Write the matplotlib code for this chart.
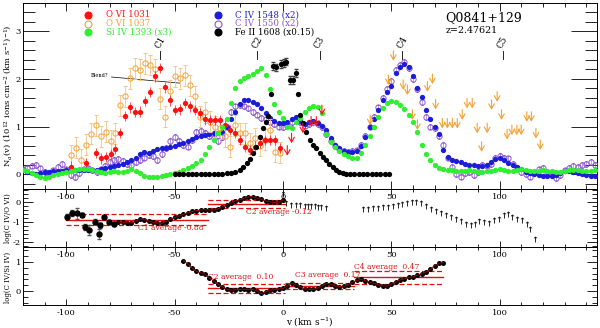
import numpy as np
import matplotlib
matplotlib.use('Agg')
import matplotlib.pyplot as plt
from matplotlib.ticker import MultipleLocator

plt.rcParams['font.family'] = ['DejaVu Serif']
plt.rcParams['axes.unicode_minus'] = False
plt.rcParams['mathtext.fontset'] = 'dejavuserif'

# ---------------- data (top panel) ----------------
v_grid = np.arange(-120, 145, 2)

civ1548 = [0.08, 0.05, 0.02, 0.00, 0.02, 0.05, 0.05, 0.06, 0.07, 0.07,
           0.08, 0.08, 0.09, 0.08, 0.08, 0.09, 0.08, 0.09, 0.11, 0.13,
           0.15, 0.18, 0.20, 0.22, 0.26, 0.30, 0.35, 0.42, 0.47, 0.45,
           0.48, 0.52, 0.55, 0.56, 0.58, 0.60, 0.63, 0.66, 0.70, 0.73,
           0.77, 0.81, 0.83, 0.85, 0.86, 0.87, 0.88, 0.98, 1.15, 1.30,
           1.48, 1.56, 1.56, 1.52, 1.48, 1.38, 1.28, 1.18, 1.12, 1.08,
           1.07, 1.10, 1.15, 1.20, 1.12, 1.05, 1.10, 1.12, 1.08, 1.02,
           0.93, 0.75, 0.62, 0.55, 0.49, 0.47, 0.46, 0.48, 0.60, 0.78,
           0.98, 1.16, 1.35, 1.55, 1.72, 1.85, 2.12, 2.25, 2.32, 2.25,
           2.05, 1.80, 1.62, 1.35, 1.15, 0.98, 0.85, 0.50, 0.36, 0.30,
           0.27, 0.25, 0.22, 0.20, 0.20, 0.18, 0.17, 0.20, 0.26, 0.32,
           0.35, 0.30, 0.24, 0.20, 0.15, 0.10, 0.05, 0.02, 0.00, -0.02,
           -0.03, -0.04, -0.04, -0.02, 0.02, 0.06, 0.07, 0.05, 0.02, 0.00,
           -0.02, -0.04, -0.03]

civ1550 = [0.10, 0.12, 0.18, 0.20, 0.12, 0.05, 0.02, 0.08, 0.15, 0.22,
           0.10, -0.02, -0.06, 0.02, 0.10, 0.12, 0.08, 0.05, 0.10, 0.18,
           0.25, 0.30, 0.32, 0.28, 0.22, 0.20, 0.25, 0.30, 0.35, 0.40,
           0.38, 0.30, 0.42, 0.55, 0.70, 0.78, 0.70, 0.62, 0.58, 0.72,
           0.88, 0.90, 0.86, 0.80, 0.75, 0.70, 0.78, 1.00, 1.30, 1.42,
           1.45, 1.42, 1.38, 1.30, 1.25, 1.18, 1.15, 1.10, 1.05, 1.00,
           0.98, 1.02, 1.10, 1.15, 1.10, 1.02, 1.05, 1.10, 1.05, 0.98,
           0.85, 0.70, 0.60, 0.52, 0.48, 0.46, 0.48, 0.50, 0.62, 0.80,
           1.00, 1.20, 1.40, 1.60, 1.78, 1.95, 2.18, 2.30, 2.35, 2.22,
           2.00, 1.78, 1.52, 1.20, 1.00, 0.96, 0.80, 0.62, 0.35, 0.15,
           0.00, -0.05, 0.02, 0.05, -0.01, 0.05, 0.20, 0.18, 0.22, 0.35,
           0.38, 0.35, 0.33, 0.22, 0.13, 0.05, 0.00, -0.05, 0.02, 0.10,
           0.13, 0.05, -0.02, -0.08, -0.02, 0.08, 0.13, 0.18, 0.15, 0.20,
           0.22, 0.26, 0.20]

siiv1393 = [0.09, 0.06, 0.02, -0.02, -0.06, -0.08, -0.05, -0.02, 0.00, 0.03,
            0.05, 0.07, 0.09, 0.10, 0.10, 0.10, 0.08, 0.06, 0.04, 0.03,
            0.05, 0.06, 0.05, 0.05, 0.07, 0.10, 0.06, 0.02, -0.03, -0.06,
            -0.06, -0.05, -0.04, -0.02, 0.00, 0.02, 0.04, 0.08, 0.14, 0.18,
            0.24, 0.30, 0.42, 0.58, 0.72, 0.86, 1.00, 1.15, 1.50, 1.80,
            1.96, 2.02, 2.06, 2.10, 2.17, 2.22, 2.08, 1.78, 1.48, 1.30,
            1.17, 1.00, 0.96, 1.10, 1.18, 1.30, 1.38, 1.42, 1.40, 1.28,
            0.85, 0.68, 0.58, 0.48, 0.42, 0.38, 0.34, 0.34, 0.45, 0.62,
            0.80, 1.00, 1.20, 1.38, 1.50, 1.53, 1.52, 1.46, 1.36, 1.24,
            1.10, 0.88, 0.62, 0.42, 0.30, 0.20, 0.13, 0.10, 0.09, 0.08,
            0.07, 0.06, 0.07, 0.08, 0.07, 0.05, 0.05, 0.06, 0.06, 0.08,
            0.10, 0.09, 0.07, 0.06, 0.08, 0.10, 0.09, 0.07, 0.06, 0.07,
            0.08, 0.07, 0.06, 0.05, 0.05, 0.06, 0.08, 0.09, 0.08, 0.07,
            0.06, 0.07, 0.09]

ovi1031_v = [-98.0, -91.0, -86.5, -84.2, -81.9, -79.6, -77.3, -75.0, -72.7, -70.4,
             -68.1, -65.8, -63.5, -61.2, -58.9, -56.6, -54.3, -52.0, -49.7, -47.4,
             -45.1, -42.8, -40.5, -38.2, -35.9, -33.6, -31.3, -29.0, -26.7, -24.4,
             -22.1, -19.8, -17.5, -15.2, -12.9, -10.6, -8.3, -6.0, -3.7, -1.4]
ovi1031 = [0.16, 0.24, 0.45, 0.33, 0.36, 0.42, 0.53, 0.86, 1.22, 1.40,
           1.30, 1.31, 1.53, 1.72, 2.05, 2.23, 1.82, 1.55, 1.35, 1.36,
           1.49, 1.42, 1.35, 1.28, 1.15, 1.14, 1.14, 1.14, 1.03, 0.93,
           0.86, 0.72, 0.58, 0.51, 0.58, 0.65, 0.72, 0.72, 0.72, 0.55]
ovi1031_lim_v = [2.0, 4.0, 9.2, 13.0, 15.4, 18.0]
ovi1031_lim = [0.60, 0.86, 1.07, 1.21, 1.21, 1.45]

ovi1037_v = [-98.0, -95.7, -93.4, -91.1, -88.8, -86.5, -84.2, -81.9, -79.6, -77.3,
             -75.0, -72.7, -70.4, -68.1, -65.8, -63.5, -61.2, -58.9, -56.6, -54.3,
             -52.0, -49.7, -47.4, -45.1, -42.8, -40.5, -38.2, -35.9, -33.6, -31.3,
             -29.0, -26.7, -24.4, -22.1, -19.8, -17.5, -15.2, -12.9, -10.6, -8.3,
             -6.0, -3.7, -1.4]
ovi1037 = [0.40, 0.55, 0.30, 0.62, 0.85, 1.03, 0.80, 0.89, 0.70, 0.86,
           1.45, 1.63, 2.01, 2.22, 2.19, 2.33, 2.29, 2.20, 1.58, 1.21,
           1.75, 2.05, 2.01, 2.08, 1.87, 1.63, 1.21, 1.30, 1.10, 1.00,
           0.96, 0.80, 0.58, 1.03, 0.86, 0.86, 0.65, 0.75, 0.60, 0.72,
           0.93, 0.47, 0.45]
ovi1037_lim_v = [40.3, 48.7, 51.0, 55.5, 57.5, 59.8, 62.1, 66.7, 69.0, 70.5,
                 73.6, 75.9, 78.2, 80.5, 82.8, 85.0, 87.4, 89.7, 91.7, 94.3,
                 96.3, 98.9, 100.9, 103.5, 105.7, 108.0, 110.0, 112.6, 114.7,
                 116.8, 118.8]
ovi1037_lim = [1.24, 2.08, 2.59, 1.98, 1.87, 1.35, 1.14, 1.94, 2.10, 1.57,
               1.17, 1.17, 1.17, 1.17, 1.35, 1.59, 1.59, 1.07, 0.68, 1.07,
               1.56, 1.73, 1.35, 0.94, 1.03, 1.03, 1.03, 1.31, 1.31, 0.96,
               0.72]

feii_v = [-50, -48, -46, -44, -42, -40, -38, -36, -34, -32, -30, -28, -26, -24,
          -22, -20, -18.4, -16.8, -15.3, -13.8, -12.2, -10.7, -9.1, -7.6, -6.9,
          -5.4, -4.6, -3.0, -1.0, 0.5, 1.6, 3.1, 4.6, 6.2, 6.9, 7.7, 9.2, 10.8,
          12.3, 13.8, 15.4, 16.9, 18.4, 20.0, 21.5, 23.0, 24.5, 26.0, 27.6, 29.0,
          31, 33, 35, 37, 39, 41, 43, 45, 47, 49]
feii1608 = [0.0, 0.0, 0.0, 0.0, 0.0, 0.0, 0.0, 0.0, 0.0, 0.0, 0.01, 0.01, 0.02, 0.03,
            0.05, 0.09, 0.16, 0.24, 0.32, 0.44, 0.58, 0.77, 0.97, 1.10, 1.22,
            1.68, 2.27, 2.24, 2.31, 2.33, 2.36, 1.98, 1.98, 2.12, 1.68, 1.24, 1.07, 0.89,
            0.72, 0.61, 0.55, 0.44, 0.37, 0.30, 0.22, 0.15, 0.09, 0.05, 0.02, 0.01,
            0.0, 0.0, 0.0, 0.0, 0.0, 0.0, 0.0, 0.0, 0.0, 0.0]

components = ['C1', 'C2', 'C3', 'C4', 'C5']
component_v = [-56.7, -12.0, 17.0, 55.2, 101.5]

# ---------------- data (middle panel) ----------------
ratio_ovi_v_err = [-99.6, -97.3, -95.0, -92.7, -91.2, -89.7, -86.6, -85.0, -84.3,
                   -82.8, -80.5, -78.2]
ratio_ovi_err_vals = [-0.75, -0.58, -0.58, -0.66, -1.25, -1.40, -0.99, -1.58,
                      -1.17, -0.75, -1.00, -1.08]
ratio_ovi_err_sig = [0.12, 0.15, 0.25, 0.12, 0.15, 0.25, 0.12, 0.25, 0.12,
                     0.10, 0.10, 0.10]
ratio_ovi_v = np.arange(-76, 1, 2)
ratio_ovi = [-1.00, -1.02, -1.05, -1.05, -0.95, -0.85, -0.88, -0.95, -1.02, -1.06,
             -1.07, -0.98, -0.85, -0.78, -0.70, -0.62, -0.55, -0.48, -0.44, -0.41,
             -0.40, -0.40, -0.41, -0.35, -0.25, -0.15, -0.05, 0.05, 0.10, 0.18,
             0.25, 0.25, 0.19, 0.12, 0.04, 0.00, -0.03, -0.02, 0.10]
ratio_ovi_lim_v = [0.0, 1.5, 3.8, 6.1, 7.7, 10.0, 11.6, 13.1, 14.6, 16.2, 17.7, 19.7,
                   36.8, 39.1, 41.4, 43.7, 46.0, 48.3, 50.6, 52.9, 55.2, 57.5,
                   59.8, 61.6, 63.6, 66.0, 68.2, 70.5, 72.8, 75.1, 77.4, 79.7,
                   82.0, 84.3, 86.6, 88.6, 90.4, 92.7, 95.0, 97.3, 99.6, 101.9,
                   103.8, 105.7, 108.0, 110.3, 112.6, 114.2, 116.2]
ratio_ovi_lim = [0.40, -0.08, -0.15, -0.18, -0.15, -0.20, -0.20, -0.22, -0.22,
                 -0.25, -0.27, -0.30,
                 -0.37, -0.34, -0.32, -0.29, -0.27, -0.25, -0.22, -0.17, -0.12,
                 -0.08, -0.03, 0.00, -0.08, -0.23, -0.37, -0.44, -0.54, -0.66,
                 -0.75, -0.83, -0.95, -1.12, -1.17, -1.08, -0.95, -1.00, -1.05,
                 -0.92, -0.83, -0.66, -0.63, -0.75, -0.83, -0.88, -1.08, -1.33,
                 -1.84]
mid_avg_names = ['C1 average -0.88', 'C2 average -0.12']
mid_avg = [-0.88, -0.12]
mid_avg_sig = [0.25, 0.20]
mid_avg_range = [(-100, -34.5), (-34.5, 1.0)]

# ---------------- data (bottom panel) ----------------
ratio_siiv_v = np.arange(-46, 75, 2)
ratio_siiv = [1.05, 0.95, 0.80, 0.68, 0.63, 0.58, 0.45, 0.35, 0.25, 0.15,
              0.07, 0.03, 0.04, 0.06, 0.06, 0.05, 0.06, 0.00, -0.08, -0.03,
              0.03, 0.05, 0.07, 0.09, 0.18, 0.27, 0.22, 0.15, 0.08, 0.06,
              0.06, 0.10, 0.18, 0.26, 0.25, 0.18, 0.15, 0.16, 0.22, 0.30,
              0.37, 0.40, 0.36, 0.30, 0.27, 0.22, 0.18, 0.17, 0.25, 0.33,
              0.38, 0.42, 0.47, 0.49, 0.55, 0.60, 0.66, 0.75, 0.88, 0.96,
              0.98]
bot_avg_names = ['C2 average  0.10', 'C3 average  0.17', 'C4 average  0.47']
bot_avg = [0.10, 0.17, 0.47]
bot_avg_sig = [0.15, 0.10, 0.23]
bot_avg_range = [(-34.5, 1.0), (1.0, 33.0), (33.0, 74.0)]

# ---------------- colours ----------------
RED = '#ff1010'
ORANGE = '#f5a030'
ORANGE_E = '#f7c48a'
GREEN = '#30ee30'
BLUE = '#1c1cd8'
PURPLE = '#8a55d0'
DRED = '#e01010'

fig = plt.figure(figsize=(6.0, 3.28), dpi=100)
fig.patch.set_facecolor('white')
L, W = 23 / 600, 574 / 600
ax1 = fig.add_axes([L, 1 - 189 / 328, W, 186 / 328])
ax2 = fig.add_axes([L, 1 - 247 / 328, W, 58 / 328])
ax3 = fig.add_axes([L, 1 - 305 / 328, W, 58 / 328])
for ax in (ax1, ax2, ax3):
    ax.set_facecolor('none')
    ax.set_xlim(-120, 145)
    ax.xaxis.set_major_locator(MultipleLocator(50))
    ax.xaxis.set_minor_locator(MultipleLocator(10))
    ax.yaxis.set_major_locator(MultipleLocator(1))
    ax.yaxis.set_minor_locator(MultipleLocator(0.2))
    for s in ax.spines.values():
        s.set_linewidth(0.7)
    ax.tick_params(which='both', direction='in', top=True, right=True,
                   labelsize=6, width=0.6, pad=3)
    ax.tick_params(axis='y', pad=1.5)
ax1.tick_params(axis='y', which='major', length=19)
ax1.tick_params(axis='y', which='minor', length=8.5)
ax1.tick_params(axis='x', which='major', length=5.5)
ax1.tick_params(axis='x', which='minor', length=2.8)
for ax in (ax2, ax3):
    ax.tick_params(axis='y', which='major', length=7)
    ax.tick_params(axis='y', which='minor', length=3.5)
    ax.tick_params(axis='x', which='major', length=4.5)
    ax.tick_params(axis='x', which='minor', length=2.3)

ax1.set_ylim(-0.31, 3.59)
ax2.set_ylim(-2.25, 0.64)
ax3.set_ylim(-0.48, 1.52)

# ---------------- top panel ----------------
ms = 3.8
ax1.errorbar(v_grid, civ1550, yerr=0.06, fmt='o', ms=ms, mfc='none', mec=PURPLE,
             mew=0.7, ecolor=PURPLE, elinewidth=0.4, capsize=1, zorder=3)
ax1.plot(v_grid, civ1548, 'o', ms=ms, color=BLUE, mew=0, zorder=4)
ax1.errorbar(ovi1037_v, ovi1037, yerr=0.22, fmt='o', ms=ms, mfc='none', mec=ORANGE,
             mew=0.7, ecolor=ORANGE_E, elinewidth=0.6, capsize=1.5, zorder=5)
ax1.errorbar(ovi1031_v, ovi1031, yerr=0.11, fmt='o', ms=ms, color=RED, mew=0,
             ecolor=RED, elinewidth=0.5, capsize=1.2, zorder=6)
ax1.plot(v_grid, siiv1393, 'o', ms=ms, color=GREEN, mew=0, zorder=7)
fe = np.array(feii1608)
fev = np.array(feii_v)
big = fe > 1.9
ax1.errorbar(fev[big], fe[big], yerr=0.08, fmt='none', ecolor='#444444',
             elinewidth=0.5, capsize=1.2, zorder=8)
ax1.plot(fev, fe, 'o', ms=ms, color='black', mew=0, zorder=9)

for vv, nn in zip(ovi1037_lim_v, ovi1037_lim):
    ax1.annotate('', xy=(vv, nn - 0.21), xytext=(vv, nn),
                 arrowprops=dict(arrowstyle='->,head_length=0.35,head_width=0.2',
                                 color=ORANGE, lw=0.8, shrinkA=0, shrinkB=0),
                 zorder=6)
for vv, nn in zip(ovi1031_lim_v, ovi1031_lim):
    ax1.annotate('', xy=(vv, nn - 0.21), xytext=(vv, nn),
                 arrowprops=dict(arrowstyle='->,head_length=0.35,head_width=0.2',
                                 color=RED, lw=0.8, shrinkA=0, shrinkB=0),
                 zorder=10)

for name, cv in zip(components, component_v):
    ax1.plot([cv, cv], [2.42, 2.58], color='black', lw=0.6)
    ax1.text(cv, 2.76, name, rotation=60, ha='center', va='center', fontsize=6.3)

ax1.annotate('Blend?', xy=(-47.5, 1.91), xytext=(-80.5, 2.06),
             fontsize=3.6, ha='right', va='center',
             arrowprops=dict(arrowstyle='-', color='black', lw=0.5,
                             shrinkA=0, shrinkB=0))

# legend
leg_left = [('O VI 1031', RED, True), ('O VI 1037', ORANGE, False),
            ('Si IV 1393 (x3)', GREEN, True)]
leg_right = [('C IV 1548 (x2)', BLUE, True), ('C IV 1550 (x2)', PURPLE, False),
             ('Fe II 1608 (x0.15)', 'black', True)]
rows = [3.34, 3.16, 2.98]
for (lab, col, filled), yy in zip(leg_left, rows):
    ax1.plot([-89.8], [yy], 'o', ms=5, mfc=col if filled else 'none', mec=col,
             mew=0.8)
    ax1.text(-81.5, yy, lab, color=col, fontsize=6.2, va='center', ha='left')
for (lab, col, filled), yy in zip(leg_right, rows):
    ax1.plot([-29.9], [yy], 'o', ms=5, mfc=col if filled else 'none', mec=col,
             mew=0.8)
    ax1.text(-22.0, yy, lab, color=col, fontsize=6.2, va='center', ha='left')

ax1.text(75.0, 3.28, 'Q0841+129', fontsize=9, va='center', ha='left')
ax1.text(75.0, 3.01, 'z=2.47621', fontsize=6.8, va='center', ha='left')

# ---------------- middle panel ----------------
for (lo, hi), m, s in zip(mid_avg_range, mid_avg, mid_avg_sig):
    ax2.plot([lo, hi], [m, m], color=DRED, lw=1.0, zorder=2)
    ax2.plot([lo, hi], [m + s, m + s], color=DRED, lw=0.9, ls=(0, (4, 2)), zorder=2)
    ax2.plot([lo, hi], [m - s, m - s], color=DRED, lw=0.9, ls=(0, (4, 2)), zorder=2)
ax2.text(-67, -1.30, mid_avg_names[0], color=DRED, fontsize=5.5, va='center')
ax2.text(-17, -0.52, mid_avg_names[1], color=DRED, fontsize=5.5, va='center')
ax2.errorbar(ratio_ovi_v_err, ratio_ovi_err_vals, yerr=ratio_ovi_err_sig, fmt='o',
             ms=3.6, color='black', ecolor='#555555', elinewidth=0.5, capsize=1.5,
             zorder=3)
ax2.plot(ratio_ovi_v, ratio_ovi, 'o', ms=3.6, color='black', mew=0, zorder=3)
ax2.plot(ratio_ovi_v, ratio_ovi, '-', color='#aa0000', lw=0.6, zorder=4)
ax2.plot(ratio_ovi_lim_v, ratio_ovi_lim, ls='none', marker=r'$\uparrow$', ms=4.0,
         color='black', mew=0.2, zorder=3)

# ---------------- bottom panel ----------------
for (lo, hi), m, s in zip(bot_avg_range, bot_avg, bot_avg_sig):
    ax3.plot([lo, hi], [m, m], color=DRED, lw=1.0, zorder=2)
    ax3.plot([lo, hi], [m + s, m + s], color=DRED, lw=0.9, ls=(0, (4, 2)), zorder=2)
    ax3.plot([lo, hi], [m - s, m - s], color=DRED, lw=0.9, ls=(0, (4, 2)), zorder=2)
ax3.text(-34.5, 0.47, bot_avg_names[0], color=DRED, fontsize=5.5, va='center')
ax3.text(5.4, 0.55, bot_avg_names[1], color=DRED, fontsize=5.5, va='center')
ax3.text(33.0, 0.84, bot_avg_names[2], color=DRED, fontsize=5.5, va='center')
ax3.plot(ratio_siiv_v, ratio_siiv, 'o', ms=3.6, color='black', mew=0, zorder=3)
ax3.plot(ratio_siiv_v, ratio_siiv, '-', color='#aa0000', lw=0.6, zorder=4)

# ---------------- labels ----------------
fig.text(8 / 600, 1 - 96 / 328,
         r'N$_a$(v) (10$^{12}$ ions cm$^{-2}$ (km s$^{-1}$)$^{-1}$)',
         rotation=90, ha='center', va='center', fontsize=6.0)
fig.text(8 / 600, 1 - 218 / 328, 'log(C IV/O VI)', rotation=90, ha='center',
         va='center', fontsize=5.0)
fig.text(8 / 600, 1 - 277 / 328, 'log(C IV/Si IV)', rotation=90, ha='center',
         va='center', fontsize=5.0)
fig.text(310 / 600, 1 - 322 / 328, r'v (km s$^{-1}$)', ha='center', va='center',
         fontsize=6.5)

fig.savefig('out.png', dpi=100, facecolor='white')
